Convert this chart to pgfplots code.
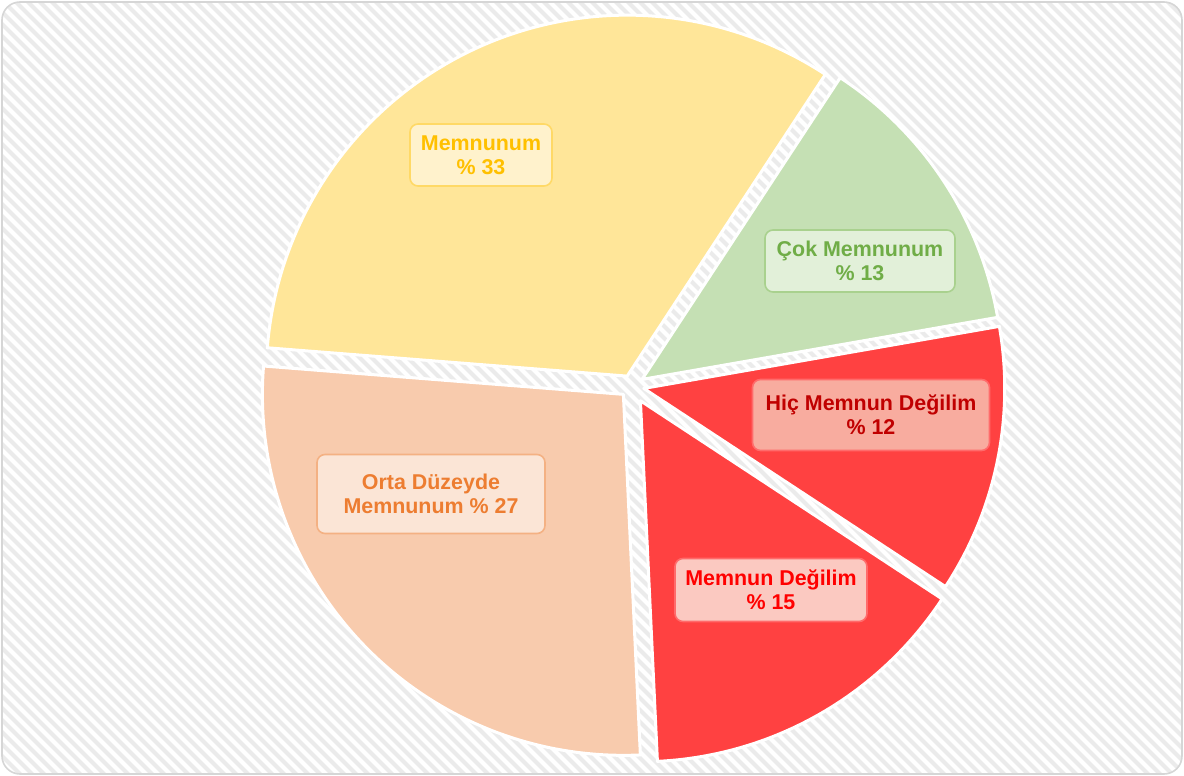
\documentclass[border=0pt]{standalone}
\usepackage{pgfplots}
\pgfplotsset{compat=1.18}
\usepackage{fontspec}
\setmainfont{Liberation Sans}
\definecolor{cYel}{HTML}{FFE699}
\definecolor{cGrn}{HTML}{C5E0B4}
\definecolor{cRed}{HTML}{FF4141}
\definecolor{cOrg}{HTML}{F8CBAD}
\definecolor{hatch}{HTML}{EBEBEB}
\definecolor{frame}{HTML}{D6D6D6}
\definecolor{bYelF}{HTML}{FFF2CC}\definecolor{bYelD}{HTML}{FFD966}\definecolor{bYelT}{HTML}{FFC000}
\definecolor{bGrnF}{HTML}{E2F0D9}\definecolor{bGrnD}{HTML}{A9D18E}\definecolor{bGrnT}{HTML}{70AD47}
\definecolor{bHicF}{HTML}{F8AC9F}\definecolor{bRedD}{HTML}{FF6B6B}\definecolor{bHicT}{HTML}{C00000}
\definecolor{bMdF}{HTML}{FBC9C1}\definecolor{bMdT}{HTML}{FF0000}
\definecolor{bOrgF}{HTML}{FBE5D6}\definecolor{bOrgD}{HTML}{F4B183}\definecolor{bOrgT}{HTML}{ED7D31}
\def\curang{175.5}
\newcommand{\slice}[3]{% pct, explode, fill
  \pgfmathsetmacro\sa{\curang}%
  \pgfmathsetmacro\ea{\curang-#1*3.6}%
  \pgfmathsetmacro\ma{(\sa+\ea)/2}%
  \pgfmathsetmacro\cx{632+#2*cos(\ma)}%
  \pgfmathsetmacro\cy{390+#2*sin(\ma)}%
  \edef\tmp{\noexpand\addplot[fill=#3, draw=white, line width=3bp, line join=round, domain=\ea:\sa, samples=120, variable=\noexpand\t] ({\cx+361*cos(\noexpand\t)},{\cy+361*sin(\noexpand\t)}) -- (\cx,\cy) -- cycle;}%
  \tmp
  \xdef\curang{\ea}%
}
\tikzset{lbl/.style={font=\fontsize{21.5}{24.5}\selectfont\bfseries, align=center, rounded corners=8bp, line width=1.6bp, inner sep=0pt}}
\begin{document}
\begin{tikzpicture}
\useasboundingbox (0,0) rectangle (1184bp,776bp);
\begin{scope}
\clip[rounded corners=18bp] (2bp,2bp) rectangle (1182bp,774bp);
\fill[white] (0,0) rectangle (1184bp,776bp);
\foreach \k in {-70,...,102} \draw[hatch, line width=4.2bp] ({\k*12bp},790bp) -- ++(820bp,-820bp);
\end{scope}
\draw[frame, line width=1.6bp, rounded corners=18bp] (2bp,2bp) rectangle (1182bp,774bp);
\begin{axis}[at={(0,0)}, anchor=south west, x=1bp, y=1bp, xmin=0, xmax=1184, ymin=0, ymax=776, hide axis, clip=false]
\slice{33}{11}{cYel}
\slice{13}{12}{cGrn}
\slice{12}{12}{cRed}
\slice{15}{17}{cRed}
\slice{27}{12}{cOrg}
\node[lbl, fill=bYelF, draw=bYelD, text=bYelT, minimum width=142bp, minimum height=62bp] at (axis cs:481,621) {Memnunum\\\% 33};
\node[lbl, fill=bGrnF, draw=bGrnD, text=bGrnT, minimum width=190bp, minimum height=62bp] at (axis cs:860,515) {Çok Memnunum\\\% 13};
\node[lbl, fill=bHicF, draw=bRedD, text=bHicT, minimum width=237bp, minimum height=71bp] at (axis cs:871,361) {Hiç Memnun Değilim\\\% 12};
\node[lbl, fill=bMdF, draw=bRedD, text=bMdT, minimum width=192bp, minimum height=63bp] at (axis cs:771,186) {Memnun Değilim\\\% 15};
\node[lbl, fill=bOrgF, draw=bOrgD, text=bOrgT, minimum width=228bp, minimum height=79bp] at (axis cs:431,282) {Orta Düzeyde\\Memnunum \% 27};
\end{axis}
\end{tikzpicture}
\end{document}
